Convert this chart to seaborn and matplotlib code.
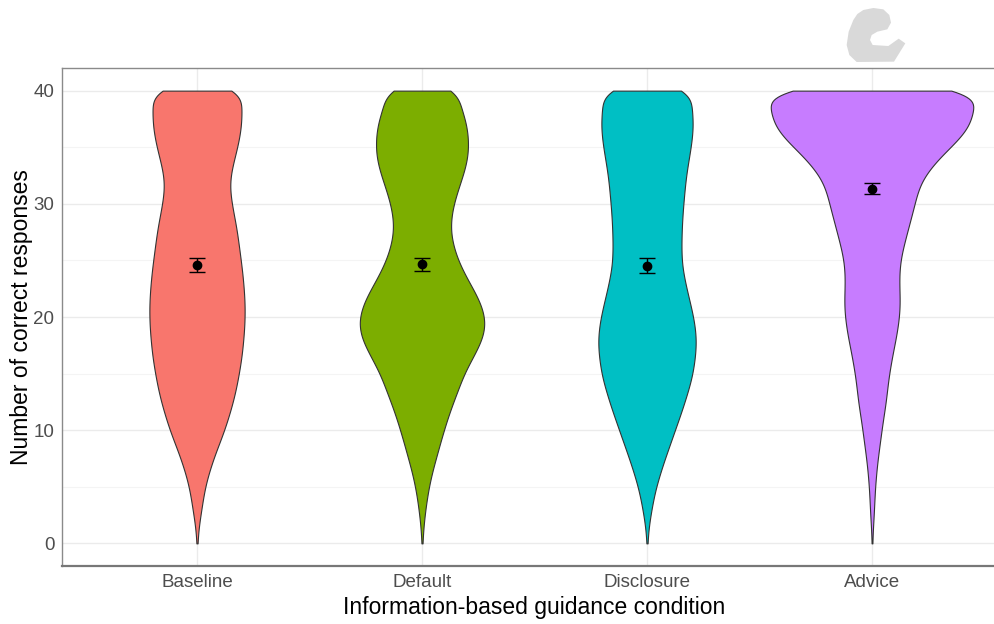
import numpy as np
import pandas as pd
import matplotlib
matplotlib.use("Agg")
import matplotlib.pyplot as plt
from matplotlib.patches import Polygon
from matplotlib.transforms import IdentityTransform
import seaborn as sns

# ---------------- data ----------------
conditions = ["Baseline", "Default", "Disclosure", "Advice"]
colors = ["#F8766D", "#7CAE00", "#00BFC4", "#C77CFF"]

scores = list(range(0, 41))  # possible number of correct responses 0..40

# estimated relative frequencies of each score per condition
freq_baseline = [1, 2, 5, 9, 12, 16, 22, 29, 37, 46,
                 55, 62, 69, 75, 80, 84, 88, 91, 93, 95,
                 96, 96, 95, 93, 91, 88, 85, 82, 79, 74,
                 70, 66, 65, 69, 75, 81, 86, 89, 91, 85,
                 108]
freq_default = [1, 2, 4, 7, 10, 14, 19, 25, 32, 38,
                45, 52, 60, 69, 78, 86, 99, 112, 124, 131,
                130, 123, 112, 98, 85, 74, 66, 60, 58, 60,
                65, 72, 80, 88, 94, 96, 95, 92, 86, 72,
                90]
freq_disclosure = [1, 2, 5, 9, 13, 18, 25, 32, 40, 48,
                   56, 64, 72, 79, 86, 92, 95, 98, 99, 97,
                   93, 88, 82, 77, 72, 69, 69, 69, 70, 71,
                   73, 75, 77, 80, 84, 88, 91, 93, 92, 85,
                   106]
freq_advice = [1, 1, 3, 4, 5, 6, 8, 10, 13, 16,
               19, 22, 26, 29, 31, 34, 38, 42, 47, 51,
               54, 56, 55, 54, 54, 56, 61, 67, 73, 79,
               85, 90, 97, 113, 132, 156, 180, 197, 202, 198,
               246]

means = [24.6, 24.65, 24.55, 31.35]
sems = [0.65, 0.60, 0.62, 0.52]

freqs = [freq_baseline, freq_default, freq_disclosure, freq_advice]
df = pd.concat([
    pd.DataFrame({"condition": c, "score": np.repeat(scores, f)})
    for c, f in zip(conditions, freqs)
], ignore_index=True)

# ---------------- plot ----------------
sns.set_style("white")
plt.rcParams["font.family"] = ["Liberation Sans", "DejaVu Sans"]

fig = plt.figure(figsize=(9.95, 6.24), dpi=100)
ax = fig.add_axes([62 / 995, 1 - 566 / 624, 945 / 995, 498 / 624])


def bandwidth(kde):
    return 1.0 / np.std(kde.dataset, ddof=1)


sns.violinplot(data=df, x="condition", y="score", hue="condition",
               order=conditions, hue_order=conditions, palette=colors,
               saturation=1, cut=0, width=0.9, density_norm="area",
               common_norm=True, bw_method=bandwidth, gridsize=300,
               inner=None, linewidth=0.8, linecolor="#333333",
               legend=False, ax=ax, zorder=3)

pos = np.arange(len(conditions))
ax.errorbar(pos, means, yerr=sems, fmt="o", color="black", markersize=6,
            elinewidth=1.0, capsize=5.5, capthick=1.0, zorder=5)

ax.set_xlim(-0.6, 3.6)
ax.set_ylim(-2, 42)
ax.set_yticks([0, 10, 20, 30, 40])
ax.set_yticks([5, 15, 25, 35], minor=True)
ax.grid(True, which="major", color="#ebebeb", linewidth=1.0, zorder=0)
ax.grid(True, which="minor", axis="y", color="#f4f4f4", linewidth=0.8, zorder=0)
ax.set_axisbelow(True)

for s in ax.spines.values():
    s.set_color("#8a8a8a")
    s.set_linewidth(1.0)
ax.spines["bottom"].set_linewidth(1.6)
ax.spines["bottom"].set_color("#777777")

ax.tick_params(axis="both", which="major", length=3.5, width=0.8,
               color="#555555", labelcolor="#4d4d4d", labelsize=13.5, pad=2)
ax.tick_params(axis="both", which="minor", length=0)

ax.set_xlabel("Information-based guidance condition", fontsize=16.5,
              color="black", labelpad=4)
ax.set_ylabel("Number of correct responses", fontsize=16.5,
              color="black", labelpad=0)

# grey logo mark in the top-right corner (decoration)
logo_z = [(130, 30), (160, 24), (190, 28), (208, 45), (213, 68), (202, 88),
          (172, 95), (155, 105), (150, 120), (158, 135), (205, 138),
          (236, 116), (256, 130), (222, 185), (110, 186), (88, 165), (80, 135),
          (86, 95), (100, 60), (112, 42)]
logo_px = [(820 + zx / 3, 624 - zy / 3) for zx, zy in logo_z]
fig.patches.append(Polygon(logo_px, closed=True, facecolor="#d9d9d9",
                           edgecolor="none", transform=IdentityTransform(),
                           figure=fig))

fig.savefig("out.png", dpi=100)
